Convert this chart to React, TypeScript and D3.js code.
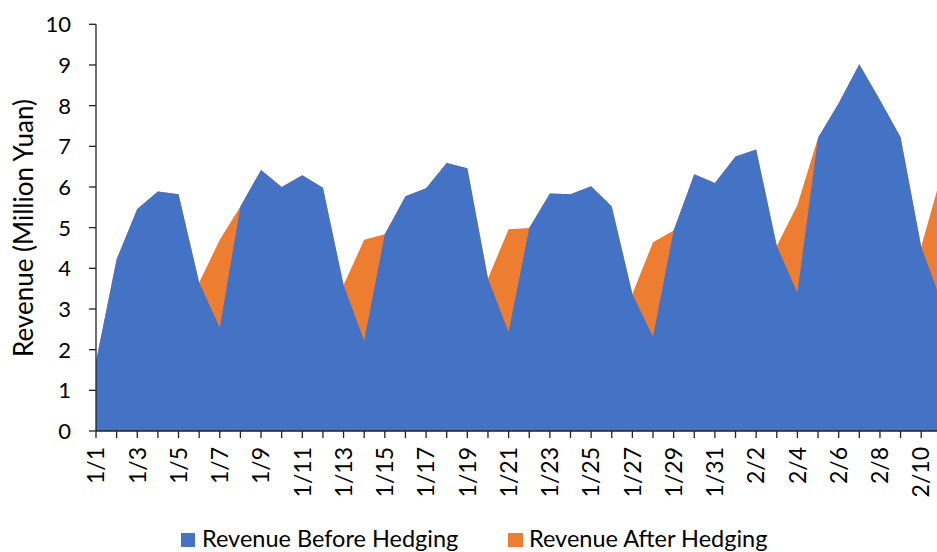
import { useMemo } from "react";
import * as d3 from "d3";

const days = [
  "1/1", "1/2", "1/3", "1/4", "1/5", "1/6", "1/7", "1/8", "1/9", "1/10",
  "1/11", "1/12", "1/13", "1/14", "1/15", "1/16", "1/17", "1/18", "1/19", "1/20",
  "1/21", "1/22", "1/23", "1/24", "1/25", "1/26", "1/27", "1/28", "1/29", "1/30",
  "1/31", "2/1", "2/2", "2/3", "2/4", "2/5", "2/6", "2/7", "2/8", "2/9",
  "2/10", "2/11",
];

const beforeHedging = [
  1.7, 4.22, 5.46, 5.89, 5.82, 3.65, 2.54, 5.52, 6.42, 6.0,
  6.29, 5.98, 3.59, 2.22, 4.84, 5.77, 5.97, 6.59, 6.46, 3.75,
  2.43, 4.99, 5.84, 5.82, 6.02, 5.52, 3.37, 2.32, 4.93, 6.31,
  6.1, 6.75, 6.92, 4.55, 3.4, 7.21, 8.06, 9.02, 8.14, 7.22,
  4.53, 3.15,
];

const afterHedging = [
  1.7, 4.22, 5.46, 5.89, 5.82, 3.65, 4.7, 5.52, 6.42, 6.0,
  6.29, 5.98, 3.59, 4.7, 4.84, 5.77, 5.97, 6.59, 6.46, 3.75,
  4.96, 4.99, 5.84, 5.82, 6.02, 5.52, 3.37, 4.64, 4.93, 6.31,
  6.1, 6.75, 6.92, 4.55, 5.56, 7.21, 8.06, 9.02, 8.14, 7.22,
  4.53, 6.34,
];

const yTicks = [0, 1, 2, 3, 4, 5, 6, 7, 8, 9, 10];

const W = 937;
const H = 552;
const FONT = "Lato, 'Open Sans', sans-serif";
const BLUE = "#4472C4";
const ORANGE = "#ED7D31";

export default function App() {
  const x = useMemo(
    () => d3.scalePoint<string>().domain(days).range([96, 96 + 20.63 * (days.length - 1)]),
    []
  );
  const y = useMemo(() => d3.scaleLinear().domain([0, 10]).range([431, 24.3]), []);

  const area = (vals: number[]) =>
    d3
      .area<number>()
      .x((_, i) => x(days[i]) as number)
      .y0(y(0))
      .y1((d) => y(d))(vals) as string;

  const labelDays = days.filter((_, i) => i % 2 === 0);

  return (
    <>
      <style>{`body{margin:0}`}</style>
      <svg width={W} height={H} style={{ display: "block", fontFamily: FONT }}>
        <rect width={W} height={H} fill="#fff" />
        <path d={area(afterHedging)} fill={ORANGE} />
        <path d={area(beforeHedging)} fill={BLUE} />

        {/* y axis */}
        <line x1={96} x2={96} y1={y(10)} y2={y(0)} stroke="#222" strokeWidth={1.3} />
        {yTicks.map((t) => (
          <g key={t}>
            <line x1={89} x2={96} y1={y(t)} y2={y(t)} stroke="#222" strokeWidth={1.3} />
            <text x={71} y={y(t)} dy="0.36em" textAnchor="end" fontSize={22} fill="#000">
              {t}
            </text>
          </g>
        ))}

        {/* x axis */}
        <line x1={96} x2={W} y1={y(0)} y2={y(0)} stroke="#222" strokeWidth={1.3} />
        {days.map((d) => (
          <line key={d} x1={x(d)} x2={x(d)} y1={y(0)} y2={y(0) + 7} stroke="#222" strokeWidth={1.3} />
        ))}
        {labelDays.map((d) => (
          <text
            key={d}
            transform={`translate(${x(d)},447) rotate(-90)`}
            dy="0.36em"
            textAnchor="end"
            fontSize={23}
            fill="#000"
          >
            {d}
          </text>
        ))}

        <text transform="translate(33,228) rotate(-90)" textAnchor="middle" fontSize={26} fill="#000">
          Revenue (Million Yuan)
        </text>

        {/* legend */}
        <rect x={181} y={533} width={14} height={14} fill={BLUE} />
        <text x={202} y={547} fontSize={23.5} fill="#000">
          Revenue Before Hedging
        </text>
        <rect x={508} y={533} width={15} height={14} fill={ORANGE} />
        <text x={529} y={547} fontSize={23.5} fill="#000">
          Revenue After Hedging
        </text>
      </svg>
    </>
  );
}
